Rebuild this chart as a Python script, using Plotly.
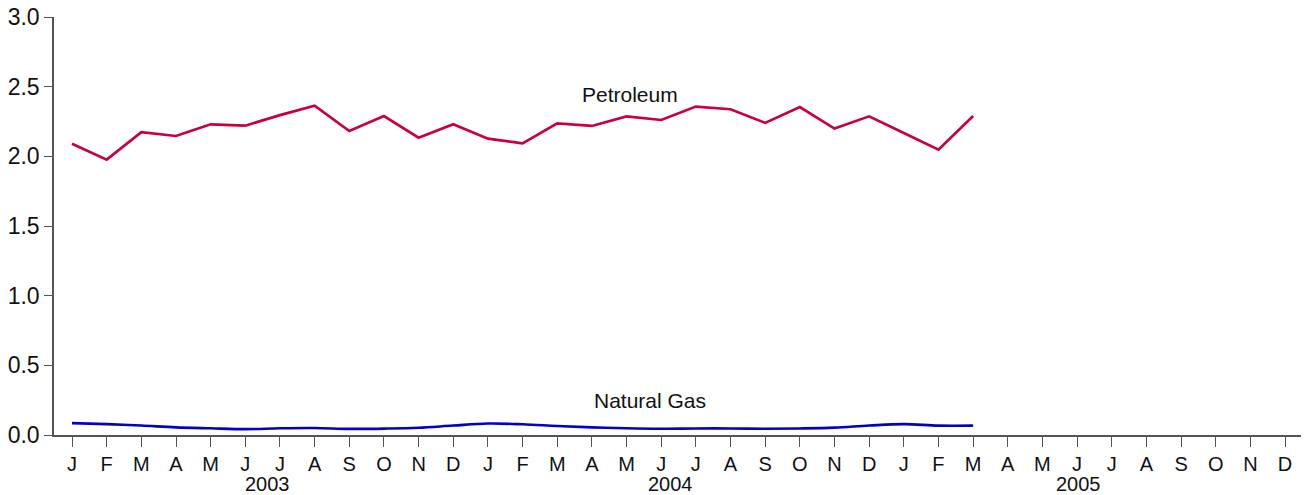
import plotly.graph_objects as go

months = ["J","F","M","A","M","J","J","A","S","O","N","D"] * 3
years = ["2003", "2004", "2005"]
year_pos = [5.65, 17.28, 29.03]

petroleum = [2.09, 1.976, 2.174, 2.146, 2.23, 2.22, 2.296, 2.364, 2.182, 2.289, 2.134, 2.23,
             2.127, 2.093, 2.237, 2.218, 2.287, 2.261, 2.357, 2.338, 2.24, 2.354, 2.199, 2.287,
             2.168, 2.048, 2.289]
natural_gas = [0.085, 0.078, 0.068, 0.055, 0.048, 0.042, 0.048, 0.050, 0.044, 0.046, 0.052, 0.068,
               0.082, 0.077, 0.065, 0.055, 0.048, 0.045, 0.047, 0.047, 0.045, 0.047, 0.053, 0.068,
               0.078, 0.067, 0.067]

x_pet = list(range(len(petroleum)))
x_gas = list(range(len(natural_gas)))

FONT = "Liberation Sans, Arial, Helvetica, sans-serif"
AXIS_COLOR = "#555555"

fig = go.Figure()
fig.add_trace(go.Scatter(x=x_pet, y=petroleum, mode="lines",
                         line=dict(color="#C8003E", width=2.7), name="Petroleum"))
fig.add_trace(go.Scatter(x=x_gas, y=natural_gas, mode="lines",
                         line=dict(color="#0000C8", width=2.6, shape="spline", smoothing=1.0),
                         name="Natural Gas"))

fig.add_annotation(x=16.1, y=2.447, text="Petroleum", showarrow=False,
                   font=dict(size=21, color="#111111", family=FONT))
fig.add_annotation(x=16.68, y=0.251, text="Natural Gas", showarrow=False,
                   font=dict(size=21, color="#111111", family=FONT))
for yr, pos in zip(years, year_pos):
    fig.add_annotation(x=pos, y=-0.117, yref="paper", text=yr, showarrow=False,
                       yanchor="middle", font=dict(size=20, color="#111111", family=FONT))

fig.update_layout(
    width=1307, height=495,
    margin=dict(l=54, r=6, t=17, b=60, autoexpand=False),
    plot_bgcolor="white", paper_bgcolor="white",
    showlegend=False,
    font=dict(family=FONT, color="#111111"),
)
fig.update_xaxes(
    range=[-0.52, 35.46],
    tickmode="array", tickvals=list(range(36)), ticktext=months,
    ticks="outside", ticklen=10, tickcolor=AXIS_COLOR, tickwidth=1.2,
    ticklabelstandoff=0, ticklabeloverflow="allow",
    showline=True, linecolor=AXIS_COLOR, linewidth=1.5,
    showgrid=False, zeroline=False,
    tickfont=dict(size=20, color="#111111", family=FONT),
)
fig.update_yaxes(
    range=[0, 3.0],
    tickmode="array", tickvals=[0, 0.5, 1.0, 1.5, 2.0, 2.5, 3.0],
    ticktext=["0.0", "0.5", "1.0", "1.5", "2.0", "2.5", "3.0"],
    ticks="outside", ticklen=8, tickcolor=AXIS_COLOR, tickwidth=1.2,
    ticklabeloverflow="allow",
    showline=True, linecolor=AXIS_COLOR, linewidth=1.5,
    showgrid=False, zeroline=False,
    tickfont=dict(size=23, color="#111111", family=FONT),
)

fig.write_html(
    "out.html",
    config={"displayModeBar": False},
    post_script="document.body.style.margin='0';document.body.style.overflow='hidden';",
)
